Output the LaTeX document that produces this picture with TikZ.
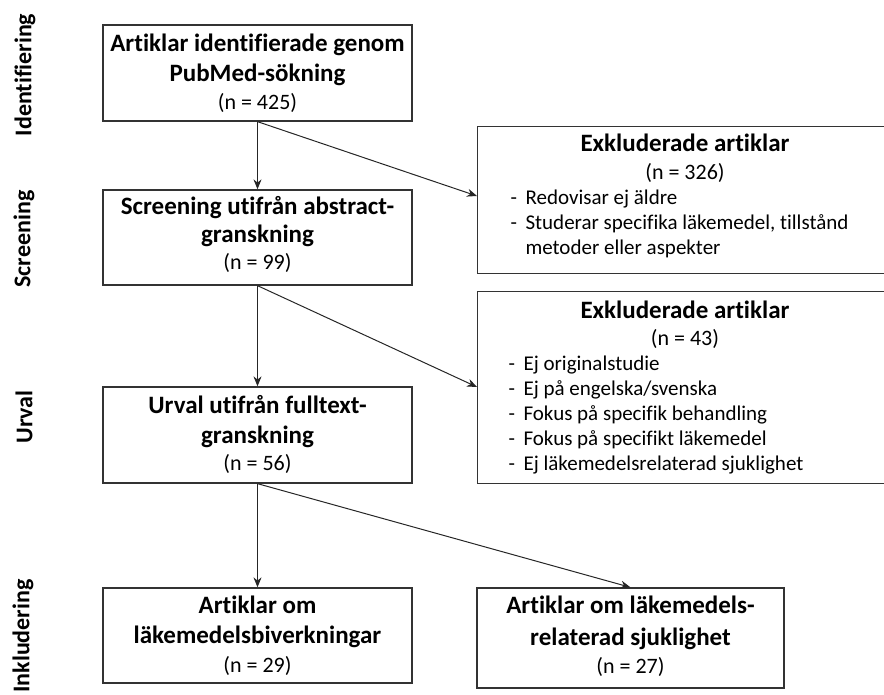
\documentclass[tikz,border=0pt]{standalone}
\usepackage{fontspec}
\setmainfont[Ligatures=NoCommon]{Carlito}
\usetikzlibrary{arrows.meta}
\begin{document}
\begin{tikzpicture}[x=1pt,y=-1pt,
  box/.style={draw=black!80,line width=1.3pt,rectangle,inner sep=0pt},
  mainbox/.style={box,minimum width=309pt,minimum height=96pt},
  ttl/.style={font=\fontsize{25}{29}\selectfont\bfseries,anchor=base},
  num/.style={font=\fontsize{22}{25}\selectfont,anchor=base},
  item/.style={font=\fontsize{21}{25}\selectfont,anchor=base west},
  side/.style={font=\fontsize{24}{25}\selectfont\bfseries,rotate=90,anchor=center},
  arr/.style={draw=black!85,line width=1pt,-{Stealth[length=10pt,width=8pt]}}]
\useasboundingbox (0,0) rectangle (884,695);
% main boxes
\node[mainbox] (b1) at (257.5,73) {};
\node[mainbox,minimum height=95pt] (b2) at (257.5,237.5) {};
\node[mainbox] (b3) at (257.5,435) {};
\node[mainbox,minimum height=95pt] (b4) at (257.5,635.5) {};
\node[box,minimum width=307pt,minimum height=100pt] (b5) at (630.5,638) {};
\node[box,minimum width=420pt,minimum height=147pt,anchor=north west] (ex1) at (477,126) {};
\node[box,minimum width=420pt,minimum height=192pt,anchor=north west] (ex2) at (477,291) {};
% texts box 1
\node[ttl] (t1a) at (257.5,52) {Artiklar identifierade genom};
\node[ttl] (t1b) at (257.5,82) {PubMed-sökning};
\node[num] (t1c) at (257.5,110) {(n = 425)};
% box 2
\node[ttl] (t2a) at (257.5,215) {Screening utifrån abstract-};
\node[ttl] (t2b) at (257.5,243) {granskning};
\node[num] (t2c) at (257.5,270) {(n = 99)};
% box 3
\node[ttl] (t3a) at (257.5,413) {Urval utifrån fulltext-};
\node[ttl] (t3b) at (257.5,443) {granskning};
\node[num] (t3c) at (257.5,470) {(n = 56)};
% box 4
\node[ttl] (t4a) at (257.5,613) {Artiklar om};
\node[ttl] (t4b) at (257.5,643) {läkemedelsbiverkningar};
\node[num] (t4c) at (257.5,672) {(n = 29)};
% box 5
\node[ttl] (t5a) at (630.5,613) {Artiklar om läkemedels-};
\node[ttl] (t5b) at (630.5,645) {relaterad sjuklighet};
\node[num] (t5c) at (630.5,673) {(n = 27)};
% exclusion 1
\node[ttl] (e1a) at (685,152) {Exkluderade artiklar};
\node[num] (e1b) at (685,180) {(n = 326)};
\node[item] (e1d1) at (507,205) {-};
\node[item] (e1i1) at (522,205) {Redovisar ej äldre};
\node[item] (e1d2) at (507,230) {-};
\node[item] (e1i2) at (522,230) {Studerar specifika läkemedel, tillstånd};
\node[item] (e1i3) at (522,255) {metoder eller aspekter};
% exclusion 2
\node[ttl] (e2a) at (685,318) {Exkluderade artiklar};
\node[num] (e2b) at (685,345) {(n = 43)};
\node[item] (e2d1) at (505,370) {-};
\node[item] (e2i1) at (520,370) {Ej originalstudie};
\node[item] (e2d2) at (505,395) {-};
\node[item] (e2i2) at (520,395) {Ej på engelska/svenska};
\node[item] (e2d3) at (505,420) {-};
\node[item] (e2i3) at (520,420) {Fokus på specifik behandling};
\node[item] (e2d4) at (505,445) {-};
\node[item] (e2i4) at (520,445) {Fokus på specifikt läkemedel};
\node[item] (e2d5) at (505,470) {-};
\node[item] (e2i5) at (520,470) {Ej läkemedelsrelaterad sjuklighet};
% side labels
\node[side] (s1) at (25,75) {Identifiering};
\node[side] (s2) at (24,239) {Screening};
\node[side] (s3) at (24,417) {Urval};
\node[side] (s4) at (23,636) {Inkludering};
% arrows
\coordinate (p1) at (477,196);
\coordinate (p2) at (477,387);
\draw[arr] (b1.south) -- (b2.north);
\draw[arr] (b1.south) -- (p1);
\draw[arr] (b2.south) -- (b3.north);
\draw[arr] (b2.south) -- (p2);
\draw[arr] (b3.south) -- (b4.north);
\draw[arr] (b3.south) -- (b5.north);
\end{tikzpicture}
\end{document}
